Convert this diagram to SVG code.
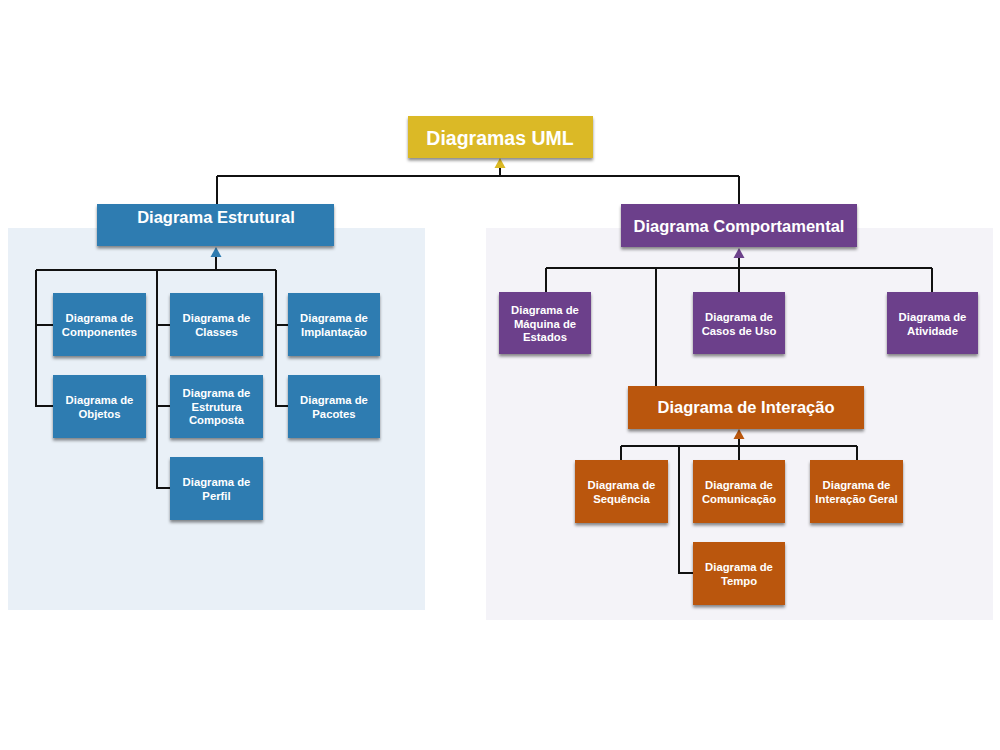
<svg xmlns="http://www.w3.org/2000/svg" width="1000" height="750" viewBox="0 0 1000 750">
<defs>
<filter id="sh" x="-10%" y="-20%" width="120%" height="150%">
<feDropShadow dx="0" dy="2.5" stdDeviation="1.8" flood-color="#000" flood-opacity="0.45"/>
</filter>
<style>
.t{font-family:"Liberation Sans",Arial,sans-serif;font-weight:bold;fill:#fff;text-anchor:middle}
.s{font-size:11.3px}
.h{font-size:16.5px}
.r{font-size:19.5px}
.yel{fill:#dbb925}
.blu{fill:#2e7cb1}
.pur{fill:#6c418b}
.ora{fill:#ba570e}
.ln{fill:none;stroke:#111;stroke-width:2}
</style>
</defs>
<rect width="1000" height="750" fill="#fff"/>
<rect x="8" y="228" width="417" height="382" fill="#e9f0f7"/>
<rect x="486" y="228" width="507" height="392" fill="#f4f3f8"/>

<g id="connectors">
<path class="ln" d="M500 166 V176 M217 176 H739 M217 176 V204 M739 176 V204"/>
<path class="ln" d="M216 255 V270 M36 270 H276 M36 270 V406 H53 M36 325 H53 M157 270 V488 H170 M157 325 H170 M157 406 H170 M276 270 V406 H288 M276 325 H288"/>
<path class="ln" d="M739 255 V292 M546 268 H932 M546 268 V292 M932 268 V292 M656 268 V386"/>
<path class="ln" d="M739 437 V460 M621 446 H857 M621 446 V460 M857 446 V460 M679 446 V573 H693"/>
<polygon class="yel" points="500,158 494.5,168 505.5,168"/>
<polygon class="blu" points="216,247 210.5,257 221.5,257"/>
<polygon class="pur" points="739,248 733.5,258 744.5,258"/>
<polygon class="ora" points="739,429 733.5,439 744.5,439"/>
</g>

<g id="root"><rect class="yel" x="408" y="116" width="185" height="42" filter="url(#sh)"/><text class="t r" x="500" y="145">Diagramas UML</text></g>

<g id="estrutural"><rect class="blu" x="97" y="204" width="237" height="42" filter="url(#sh)"/><text class="t h" x="216" y="223">Diagrama Estrutural</text></g>
<g id="componentes"><rect class="blu" x="53" y="293" width="93" height="63" filter="url(#sh)"/><text class="t s" x="99.5" y="322">Diagrama de<tspan x="99.5" dy="13.5">Componentes</tspan></text></g>
<g id="objetos"><rect class="blu" x="53" y="375" width="93" height="63" filter="url(#sh)"/><text class="t s" x="99.5" y="404">Diagrama de<tspan x="99.5" dy="13.5">Objetos</tspan></text></g>
<g id="classes"><rect class="blu" x="170" y="293" width="93" height="63" filter="url(#sh)"/><text class="t s" x="216.5" y="322">Diagrama de<tspan x="216.5" dy="13.5">Classes</tspan></text></g>
<g id="estrutura-composta"><rect class="blu" x="170" y="375" width="93" height="63" filter="url(#sh)"/><text class="t s" x="216.5" y="397">Diagrama de<tspan x="216.5" dy="13.5">Estrutura</tspan><tspan x="216.5" dy="13.5">Composta</tspan></text></g>
<g id="perfil"><rect class="blu" x="170" y="457" width="93" height="63" filter="url(#sh)"/><text class="t s" x="216.5" y="486">Diagrama de<tspan x="216.5" dy="13.5">Perfil</tspan></text></g>
<g id="implantacao"><rect class="blu" x="288" y="293" width="92" height="63" filter="url(#sh)"/><text class="t s" x="334" y="322">Diagrama de<tspan x="334" dy="13.5">Implantação</tspan></text></g>
<g id="pacotes"><rect class="blu" x="288" y="375" width="92" height="63" filter="url(#sh)"/><text class="t s" x="334" y="404">Diagrama de<tspan x="334" dy="13.5">Pacotes</tspan></text></g>

<g id="comportamental"><rect class="pur" x="621" y="204" width="236" height="43" filter="url(#sh)"/><text class="t h" x="739" y="232">Diagrama Comportamental</text></g>
<g id="maquina"><rect class="pur" x="499" y="292" width="92" height="62" filter="url(#sh)"/><text class="t s" x="545" y="314">Diagrama de<tspan x="545" dy="13.5">Máquina de</tspan><tspan x="545" dy="13.5">Estados</tspan></text></g>
<g id="casos-uso"><rect class="pur" x="693" y="292" width="92" height="62" filter="url(#sh)"/><text class="t s" x="739" y="321">Diagrama de<tspan x="739" dy="13.5">Casos de Uso</tspan></text></g>
<g id="atividade"><rect class="pur" x="887" y="292" width="91" height="62" filter="url(#sh)"/><text class="t s" x="932.5" y="321">Diagrama de<tspan x="932.5" dy="13.5">Atividade</tspan></text></g>

<g id="interacao"><rect class="ora" x="628" y="386" width="236" height="43" filter="url(#sh)"/><text class="t h" x="746" y="413">Diagrama de Interação</text></g>
<g id="sequencia"><rect class="ora" x="575" y="460" width="93" height="63" filter="url(#sh)"/><text class="t s" x="621.5" y="489">Diagrama de<tspan x="621.5" dy="13.5">Sequência</tspan></text></g>
<g id="comunicacao"><rect class="ora" x="693" y="460" width="92" height="63" filter="url(#sh)"/><text class="t s" x="739" y="489">Diagrama de<tspan x="739" dy="13.5">Comunicação</tspan></text></g>
<g id="interacao-geral"><rect class="ora" x="810" y="460" width="93" height="63" filter="url(#sh)"/><text class="t s" x="856.5" y="489">Diagrama de<tspan x="856.5" dy="13.5">Interação Geral</tspan></text></g>
<g id="tempo"><rect class="ora" x="693" y="542" width="92" height="63" filter="url(#sh)"/><text class="t s" x="739" y="571">Diagrama de<tspan x="739" dy="13.5">Tempo</tspan></text></g>
</svg>
